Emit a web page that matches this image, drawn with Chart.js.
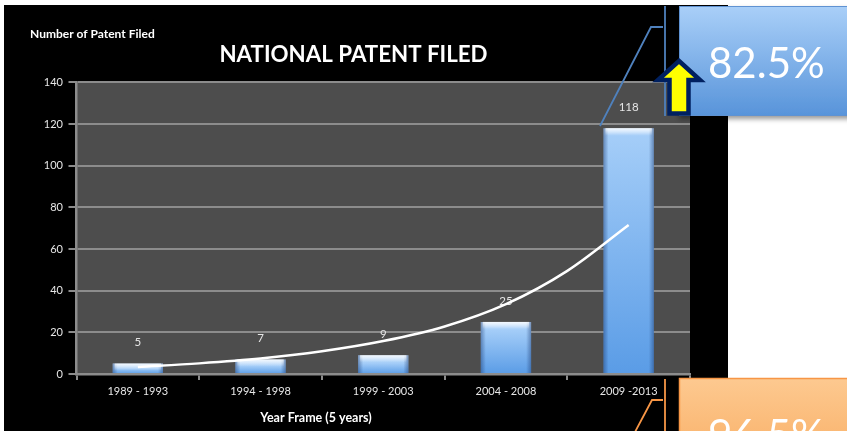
<!DOCTYPE html>
<html>
<head>
<meta charset="utf-8">
<script src="https://cdn.jsdelivr.net/npm/chart.js@4/dist/chart.umd.min.js"></script>
<style>
  html, body { margin: 0; padding: 0; background: #fff; width: 847px; height: 431px; overflow: hidden; }
  #panel { position: absolute; left: 4px; top: 5px; width: 724px; height: 426px; background: #000; }
  #panel canvas { position: absolute; left: 0; top: 0; }
  #overlay { position: absolute; left: 0; top: 0; pointer-events: none; }
</style>
</head>
<body>
<div id="panel"><canvas id="chart" width="724" height="426"></canvas></div>

<svg id="overlay" width="847" height="431" xmlns="http://www.w3.org/2000/svg">
  <defs>
    <linearGradient id="gBlue" x1="0" y1="0" x2="0" y2="1">
      <stop offset="0" stop-color="#a9cff8"/>
      <stop offset="1" stop-color="#5894da"/>
    </linearGradient>
    <linearGradient id="gOrange" x1="0" y1="0" x2="0" y2="1">
      <stop offset="0" stop-color="#fdc990"/>
      <stop offset="1" stop-color="#f8a85a"/>
    </linearGradient>
    <filter id="shadow" x="-10%" y="-10%" width="130%" height="140%">
      <feDropShadow dx="0" dy="3" stdDeviation="2.5" flood-color="#000" flood-opacity="0.4"/>
    </filter>
  </defs>

  <!-- growth callout (upper) -->
  <rect x="679.5" y="6.5" width="180" height="109" fill="url(#gBlue)" stroke="#5e92d2" stroke-width="1" filter="url(#shadow)"/>
  <text x="708" y="78" font-family="Lato, 'Open Sans', sans-serif" font-size="42" fill="#fff">82.5%</text>
  <polyline points="600,126 651,27 663,27" fill="none" stroke="#4f81bd" stroke-width="1.8"/>
  <line x1="665" y1="6" x2="665" y2="116" stroke="#4f81bd" stroke-width="1.8"/>

  <!-- growth callout (lower) -->
  <rect x="679.5" y="378.5" width="180" height="109" fill="url(#gOrange)" stroke="#f79646" stroke-width="1.5"/>
  <text x="708" y="450" font-family="Lato, 'Open Sans', sans-serif" font-size="42" fill="#fff">96.5%</text>
  <polyline points="635,432 652,400 663,400" fill="none" stroke="#f79646" stroke-width="1.8"/>
  <line x1="665" y1="379" x2="665" y2="431" stroke="#f79646" stroke-width="1.8"/>

  <!-- up arrow -->
  <polygon points="679,61 700,80 688.5,80 688.5,113.5 669.5,113.5 669.5,80 658,80"
           fill="#ffff00" stroke="#002060" stroke-width="4.5" stroke-linejoin="miter"/>
</svg>

<script>
// Patent filings per five-year window
const categories = ['1989 - 1993', '1994 - 1998', '1999 - 2003', '2004 - 2008', '2009 -2013'];
const patents = [5, 7, 9, 25, 118];

// Exponential trend line, sampled every half window (1 = first window)
const trendX = [1, 1.5, 2, 2.5, 3, 3.5, 4, 4.5, 5];
const trendY = [3.4, 5.1, 7.4, 10.9, 15.8, 22.8, 33.5, 49.5, 71.5];

// Value axis ticks
const yMin = 0, yMax = 140, yStep = 20;

const FONT = "Lato, 'Open Sans', sans-serif";
const AXIS_GREY = '#8c8c8c';
const TEXT_GREY = '#e6e6e6';

// Dark plot background + titles
const framePlugin = {
  id: 'frame',
  beforeDraw(chart) {
    const { ctx, chartArea: a } = chart;
    ctx.save();
    ctx.fillStyle = '#4d4d4d';
    ctx.fillRect(a.left, a.top, a.right - a.left, a.bottom - a.top);
    ctx.restore();
  },
  afterDraw(chart) {
    const ctx = chart.ctx;
    ctx.save();
    ctx.fillStyle = '#ffffff';
    ctx.textBaseline = 'alphabetic';
    ctx.textAlign = 'center';
    ctx.font = 'bold 22.3px ' + FONT;
    ctx.fillText('NATIONAL PATENT FILED', 349.5, 57);
    ctx.font = 'bold 12px ' + FONT;
    ctx.textAlign = 'left';
    ctx.fillText('Number of Patent Filed', 26, 33);
    ctx.textAlign = 'center';
    ctx.font = 'bold 12.5px ' + FONT;
    ctx.fillText('Year Frame (5 years)', 312, 417);
    ctx.restore();
  }
};

// Side shading and value labels on the bars
const barDecor = {
  id: 'barDecor',
  afterDatasetDraw(chart, args) {
    if (args.index !== 0) return;
    const ctx = chart.ctx;
    const meta = chart.getDatasetMeta(0);
    ctx.save();
    meta.data.forEach((bar, i) => {
      const left = bar.x - bar.width / 2;
      const g = ctx.createLinearGradient(left, 0, left + bar.width, 0);
      g.addColorStop(0, 'rgba(25,55,110,0.45)');
      g.addColorStop(0.1, 'rgba(25,55,110,0.0)');
      g.addColorStop(0.9, 'rgba(25,55,110,0.0)');
      g.addColorStop(1, 'rgba(25,55,110,0.45)');
      ctx.fillStyle = g;
      ctx.fillRect(left, bar.y, bar.width, bar.base - bar.y);
      // top bevel highlight
      const h = ctx.createLinearGradient(0, bar.y, 0, bar.y + 7);
      h.addColorStop(0, 'rgba(255,255,255,0.75)');
      h.addColorStop(1, 'rgba(255,255,255,0)');
      ctx.fillStyle = h;
      ctx.fillRect(left + 2, bar.y, bar.width - 4, Math.min(7, bar.base - bar.y));

      ctx.fillStyle = TEXT_GREY;
      ctx.font = '11.5px ' + FONT;
      ctx.textAlign = 'center';
      ctx.textBaseline = 'middle';
      ctx.fillText(String(patents[i]), bar.x, bar.y - 21);
    });
    ctx.restore();
  }
};

function barFill(c) {
  const ch = c.chart;
  if (!ch.chartArea || c.dataIndex === undefined) return '#7fb2ec';
  const ys = ch.scales.y;
  const top = ys.getPixelForValue(patents[c.dataIndex]);
  const base = ys.getPixelForValue(0);
  const g = ch.ctx.createLinearGradient(0, top, 0, base);
  g.addColorStop(0, '#cfe5fc');
  g.addColorStop(Math.min(0.45, 8 / Math.max(1, base - top)), '#a4cdf8');
  g.addColorStop(1, '#5a9ce6');
  return g;
}

new Chart(document.getElementById('chart'), {
  data: {
    labels: categories,
    datasets: [
      {
        type: 'bar',
        data: patents,
        backgroundColor: barFill,
        borderWidth: 0,
        grouped: false,
        categoryPercentage: 1,
        barPercentage: 0.41,
        order: 2
      },
      {
        type: 'line',
        data: trendX.map((x, i) => ({ x, y: trendY[i] })),
        xAxisID: 'xt',
        yAxisID: 'y',
        borderColor: '#ffffff',
        borderWidth: 2.5,
        pointRadius: 0,
        tension: 0.4,
        cubicInterpolationMode: 'monotone',
        order: 1
      }
    ]
  },
  options: {
    responsive: false,
    animation: false,
    layout: { padding: { left: 0, top: 77.3, right: 38, bottom: 0 } },
    plugins: { legend: { display: false }, title: { display: false }, tooltip: { enabled: false } },
    scales: {
      x: {
        type: 'category',
        offset: true,
        afterFit(s) { s.height = 57; },
        grid: { offset: true, drawOnChartArea: false, drawTicks: true, tickLength: 6, color: AXIS_GREY, lineWidth: 2 },
        border: { display: true, color: AXIS_GREY, width: 2.5 },
        ticks: { color: TEXT_GREY, font: { family: FONT, size: 11 }, padding: 5, maxRotation: 0 }
      },
      xt: {
        type: 'linear',
        display: false,
        min: 0.5,
        max: 5.5
      },
      y: {
        min: yMin,
        max: yMax,
        afterFit(s) { s.width = 72.5; },
        ticks: { stepSize: yStep, color: TEXT_GREY, font: { family: FONT, size: 11 }, padding: 5.5 },
        grid: { color: AXIS_GREY, lineWidth: 2, drawTicks: true, tickLength: 8 },
        border: { display: true, color: AXIS_GREY, width: 2.5 }
      }
    }
  },
  plugins: [framePlugin, barDecor]
});
</script>
</body>
</html>
